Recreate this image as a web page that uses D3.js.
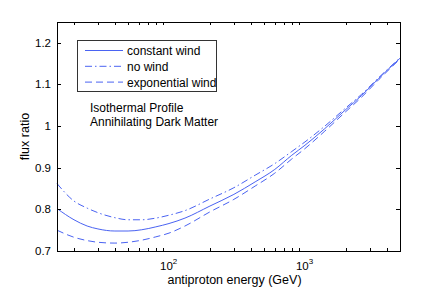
<!DOCTYPE html>
<html>
<head>
<meta charset="utf-8">
<script src="https://cdn.jsdelivr.net/npm/d3@7"></script>
<style>
	body { margin: 0; background: #fff; }
	svg text { font-family: "Liberation Sans", Arial, Helvetica, sans-serif; fill: #000; }
</style>
</head>
<body>
<div id="chart"></div>
<script>
// antiproton energy (GeV)
var energy = [15, 20, 25, 30, 40, 50, 63, 80, 100, 131, 200, 300, 430, 600, 800, 1000, 1400, 2000, 2600, 3500, 5000];
var constantWind = [0.802, 0.775, 0.760, 0.753, 0.748, 0.748, 0.751, 0.758, 0.766, 0.779, 0.808, 0.836, 0.866, 0.896, 0.930, 0.954, 0.994, 1.040, 1.073, 1.115, 1.163];
var noWind = [0.862, 0.820, 0.803, 0.792, 0.780, 0.775, 0.775, 0.779, 0.786, 0.797, 0.825, 0.852, 0.882, 0.910, 0.939, 0.962, 1.000, 1.044, 1.076, 1.117, 1.164];
var expWind = [0.750, 0.733, 0.725, 0.721, 0.719, 0.721, 0.726, 0.734, 0.743, 0.760, 0.794, 0.824, 0.856, 0.887, 0.921, 0.946, 0.988, 1.035, 1.069, 1.112, 1.161];

var seriesNames = ["constant wind", "no wind", "exponential wind"];
var seriesDash = [null, "7,3,1.5,3", "7,4"];
var yTicks = [0.7, 0.8, 0.9, 1, 1.1, 1.2];
var xMajor = [100, 1000];
var notes = ["Isothermal Profile", "Annihilating Dark Matter"];

var W = 443, H = 291;
var m = {left: 57, top: 22, right: 43, bottom: 40};
var lineColor = "#4a63f2";

var svg = d3.select("#chart").append("svg")
	.attr("width", W)
	.attr("height", H);

var x = d3.scaleLog().domain([15, 5000]).range([m.left, W - m.right]);
var y = d3.scaleLinear().domain([0.7, 1.25]).range([H - m.bottom, m.top]);

var series = [constantWind, noWind, expWind];

// minor ticks for the log axis
var xMinor = [];
[10, 100, 1000].forEach(function(dec) {
	for (var k = 1; k < 10; k++) {
		var v = dec * k;
		if (v >= 15 && v <= 5000 && k > 1) xMinor.push(v);
	}
});

var x0 = m.left, x1 = W - m.right, y0 = H - m.bottom, y1 = m.top;

// lines
var line = d3.line()
	.x(function(d) { return x(d[0]); })
	.y(function(d) { return y(d[1]); })
	.curve(d3.curveMonotoneX);

series.forEach(function(s, i) {
	svg.append("path")
		.datum(energy.map(function(e, j) { return [e, s[j]]; }))
		.attr("d", line)
		.attr("fill", "none")
		.attr("stroke", lineColor)
		.attr("stroke-width", 1)
		.attr("stroke-dasharray", seriesDash[i]);
});

// box axes with inward ticks
var axes = svg.append("g").attr("stroke", "#000").attr("stroke-width", 1).attr("fill", "none");
axes.append("rect")
	.attr("x", x0 + 0.5).attr("y", y1 + 0.5)
	.attr("width", x1 - x0).attr("height", y0 - y1);

xMinor.forEach(function(v) {
	var isMajor = xMajor.indexOf(v) >= 0;
	var len = isMajor ? 5 : 3;
	var px = Math.round(x(v)) + 0.5;
	axes.append("line").attr("x1", px).attr("x2", px).attr("y1", y0).attr("y2", y0 - len);
	axes.append("line").attr("x1", px).attr("x2", px).attr("y1", y1).attr("y2", y1 + len);
});

yTicks.forEach(function(v) {
	var py = Math.round(y(v)) + 0.5;
	axes.append("line").attr("x1", x0).attr("x2", x0 + 4).attr("y1", py).attr("y2", py);
	axes.append("line").attr("x1", x1).attr("x2", x1 - 4).attr("y1", py).attr("y2", py);
});

// y tick labels
svg.append("g").selectAll("text").data(yTicks).enter()
	.append("text")
	.attr("x", x0 - 6)
	.attr("y", function(d) { return y(d) + 4; })
	.attr("text-anchor", "end")
	.attr("font-size", 11.5)
	.text(function(d) { return d === 1 ? "1" : d3.format(".1f")(d); });

// x tick labels, 10^n
xMajor.forEach(function(v) {
	var t = svg.append("text")
		.attr("x", x(v) - 9)
		.attr("y", y0 + 19)
		.attr("font-size", 11.5);
	t.append("tspan").text("10");
	t.append("tspan").attr("dy", -6).attr("font-size", 8).text(Math.round(Math.log10(v)));
});

// axis titles
svg.append("text")
	.attr("x", (x0 + x1) / 2 + 6)
	.attr("y", H - 7.5)
	.attr("text-anchor", "middle")
	.attr("font-size", 12.5)
	.text("antiproton energy (GeV)");

svg.append("text")
	.attr("transform", "translate(28.5," + ((y0 + y1) / 2) + ") rotate(-90)")
	.attr("text-anchor", "middle")
	.attr("font-size", 12.5)
	.text("flux ratio");

// legend
var lg = svg.append("g");
lg.append("rect")
	.attr("x", 77.5).attr("y", 40.5)
	.attr("width", 139).attr("height", 51)
	.attr("fill", "#fff").attr("stroke", "#333").attr("stroke-width", 1);

seriesNames.forEach(function(name, i) {
	var ly = 50.5 + i * 15.8;
	lg.append("line")
		.attr("x1", 85).attr("x2", 123)
		.attr("y1", ly).attr("y2", ly)
		.attr("stroke", lineColor)
		.attr("stroke-width", 1)
		.attr("stroke-dasharray", seriesDash[i]);
	lg.append("text")
		.attr("x", 127)
		.attr("y", ly + 4.5)
		.attr("font-size", 12)
		.text(name);
});

// annotation
notes.forEach(function(n, i) {
	svg.append("text")
		.attr("x", 90)
		.attr("y", 111.5 + i * 14.5)
		.attr("font-size", 12)
		.text(n);
});
</script>
</body>
</html>
